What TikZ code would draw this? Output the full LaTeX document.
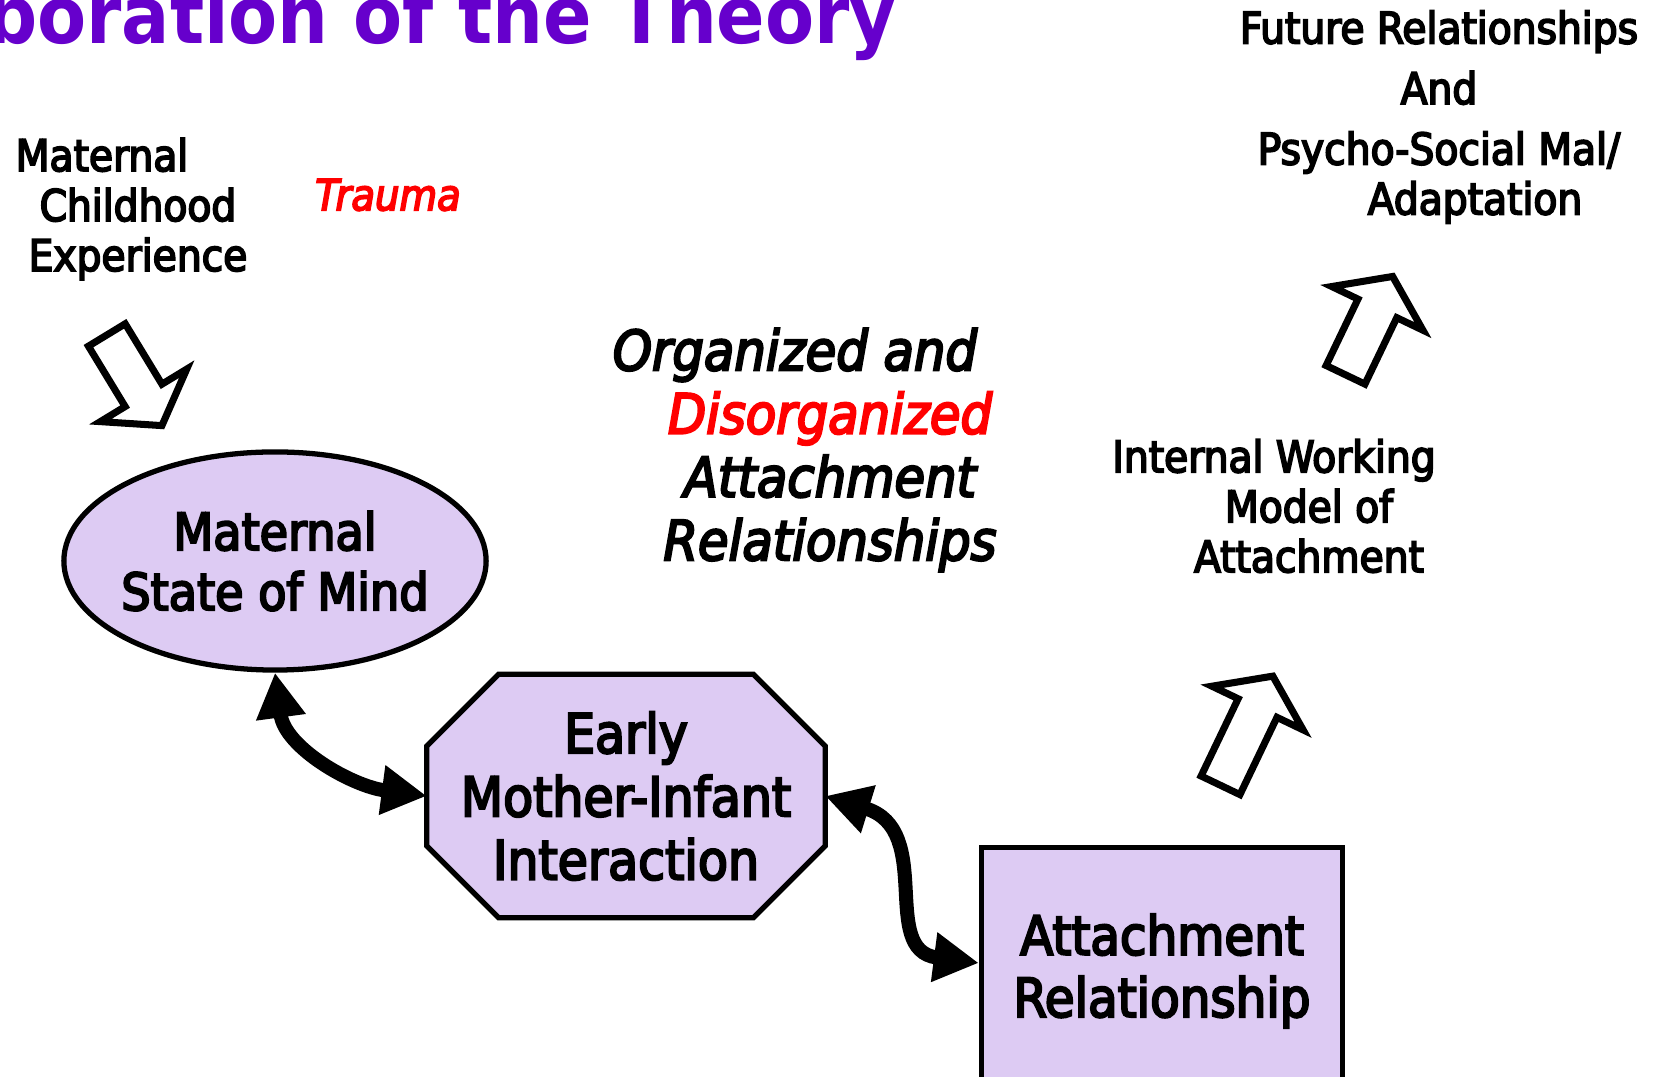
\documentclass[tikz,border=0pt]{standalone}
\usepackage{fontspec}
\setmainfont{DejaVu Sans Condensed}[UprightFeatures={FakeBold=4},ItalicFont={DejaVu Sans Condensed Oblique},ItalicFeatures={FakeBold=4},BoldFont={DejaVu Sans Condensed Bold}]
\usetikzlibrary{shapes.geometric,shapes.arrows,arrows.meta,backgrounds}
\definecolor{lav}{RGB}{221,203,243}
\definecolor{ttl}{RGB}{102,0,204}

\begin{document}
\begin{tikzpicture}[x=0.01cm,y=-0.01cm,
  blob/.style={draw,line width=1.5pt,fill=lav,align=center},
  lbl/.style={align=center,font=\fontsize{12.4}{14.2}\selectfont},
  hollow/.style={single arrow,draw,line width=2pt,fill=white,inner xsep=0pt,inner ysep=0.18cm,
    single arrow head extend=0.29cm,single arrow tip angle=110,anchor=tail},
  dbl/.style={line width=4pt,{Triangle[width=0.47cm,length=0.45cm]}-{Triangle[width=0.47cm,length=0.45cm]}}]
\useasboundingbox (0,0) rectangle (1657,1077);
\node[anchor=base east,text=ttl,font=\bfseries\fontsize{22.6}{26}\selectfont] (ttl) at (909,44) {boration of the Theory};

\node[lbl] (mce) at (138,209) {Maternal\kern0.72cm\\Childhood\\Experience};
\node[text=red,font=\itshape\fontsize{12.2}{14}\selectfont] (trm) at (388,195) {Trauma};
\node[lbl] (fr) at (1439,117) {Future Relationships\\[3pt]And\\[3pt]Psycho-Social Mal/\\\kern0.72cm Adaptation};
\node[lbl] (iwm) at (1309,506) {Internal Working\kern0.7cm\\Model of\\Attachment};
\node[align=center,font=\itshape\fontsize{15.7}{18}\selectfont] (oda) at (830,450) {Organized and\kern0.7cm\\\textcolor{red}{Disorganized}\\Attachment\\Relationships};

\node[blob,ellipse,minimum width=4.22cm,minimum height=2.18cm,inner xsep=-2pt,inner ysep=0pt,
  font=\fontsize{14.6}{17.1}\selectfont] (msm) at (275,561) {Maternal\\State of Mind};
\node[align=center,minimum width=3.97cm,minimum height=2.42cm,
  font=\fontsize{15.5}{18}\selectfont] (emi) at (626,796) {Early\\Mother-Infant\\Interaction};
\begin{scope}[on background layer]
\draw[line width=1.5pt,fill=lav] ([xshift=0.72cm]emi.north west) -- ([xshift=-0.72cm]emi.north east)
  -- ([yshift=-0.72cm]emi.north east) -- ([yshift=0.72cm]emi.south east)
  -- ([xshift=-0.72cm]emi.south east) -- ([xshift=0.72cm]emi.south west)
  -- ([yshift=0.72cm]emi.south west) -- ([yshift=-0.72cm]emi.north west) -- cycle;
\end{scope}
\node[blob,rectangle,minimum width=3.61cm,minimum height=2.47cm,
  font=\fontsize{15.3}{17.7}\selectfont] (ar) at (1162,971) {Attachment\\Relationship};

\node[hollow,rotate=-58.7,minimum height=1.06cm] (h1) at (105,332) {};
\node[hollow,rotate=64.4,minimum height=1.21cm] (h2) at (1219,788.5) {};
\node[hollow,rotate=64.4,minimum height=1.09cm] (h3) at (1344,378) {};

\draw[dbl] (msm.south) .. controls +(10,75) and +(-75,-10) .. (emi.west);
\draw[dbl] (emi.east) .. controls +(110,34) and +(-100,-13) .. ([yshift=0.08cm]ar.west);
\end{tikzpicture}
\end{document}
